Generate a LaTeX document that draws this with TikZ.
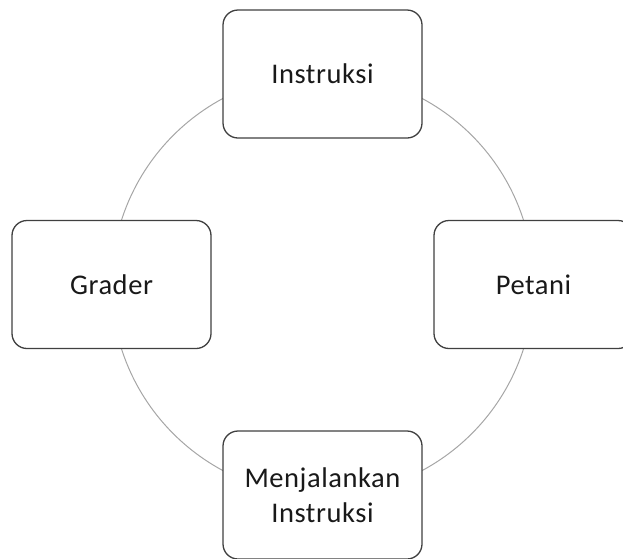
\documentclass[tikz,border=0pt]{standalone}
\usepackage{fontspec}
\setmainfont{Carlito}[LetterSpace=2]
\begin{document}
\begin{tikzpicture}[x=1pt,y=-1pt,
  cyclebox/.style={draw=black!75, line width=1.3pt, fill=white, rounded corners=15pt,
    minimum width=199pt, minimum height=128pt, align=center, inner sep=0pt,
    font=\fontsize{28.5}{35}\selectfont, text=black!90},
  ring/.style={draw=black!35, line width=1pt}]
\useasboundingbox (0,0) rectangle (623,558);
\clip (0,0) rectangle (623,558);
\coordinate (c) at (322.5,284.5);
\draw[ring] (c) circle[radius=211pt];
\node[cyclebox] (ins) at (322.5,74) {Instruksi};
\node[cyclebox] (gra) at (111.5,284.5) {Grader};
\node[cyclebox] (pet) at (533.5,284.5) {Petani};
\node[cyclebox] (men) at (322.5,495) {Menjalankan\\Instruksi};
\end{tikzpicture}
\end{document}
